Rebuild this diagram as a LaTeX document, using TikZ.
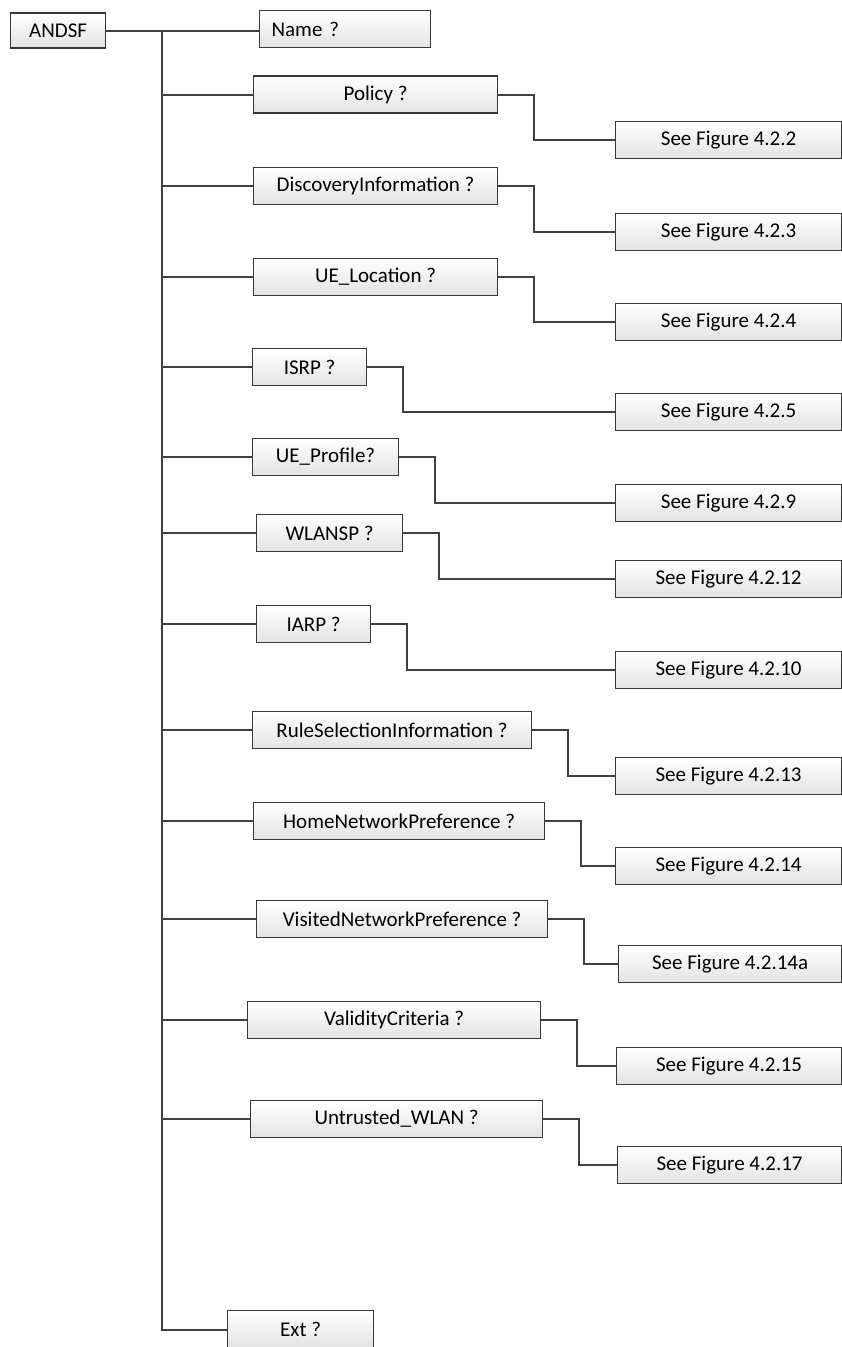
\documentclass[tikz,border=0pt]{standalone}
\usepackage{fontspec}
\setmainfont{Carlito}
\begin{document}
\begin{tikzpicture}[x=1pt, y=-1pt, font=\fontsize{21}{24}\selectfont,
    box/.style={draw=black!78, line width=1.2pt, top color=white, bottom color=black!11,
      minimum height=37, inner sep=0pt, anchor=west},
    link/.style={draw=black!75, line width=2pt}]
  \useasboundingbox (0,0) rectangle (842,1347);
  \node[box, minimum width=95, minimum height=35] (andsf) at (10,30.5) {ANDSF};
  \node[box, minimum width=171, text width=147, inner xsep=12pt, align=left] (name) at (259,29) {Name ?};
  \node[box, minimum width=146, minimum height=38, anchor=north west] (ext) at (227,1310) {Ext ?};
  \coordinate (top) at (162,30.5);
  \draw[link] (andsf.east) -- (andsf.east -| name.west);
  \draw[link] (top) |- (ext.west);
  \foreach \i/\t/\x/\w/\y/\f/\fx/\fy in {
      1/{Policy ?}/253/244/94.5/4.2.2/615/140,
      2/{DiscoveryInformation ?}/253/244/186/4.2.3/615/232,
      3/{UE\_Location ?}/253/244/277/4.2.4/615/322,
      4/{ISRP ?}/252/114/367/4.2.5/615/412,
      5/{UE\_Profile?}/252/146/457/4.2.9/615/503,
      6/{WLANSP ?}/256/146/533/4.2.12/615/579,
      7/{IARP ?}/256/114/624/4.2.10/615/670,
      8/{RuleSelectionInformation ?}/252/279/730/4.2.13/615/776,
      9/{HomeNetworkPreference ?}/253/291/821/4.2.14/615/866,
      10/{VisitedNetworkPreference ?}/256/291/919/4.2.14a/618/964,
      11/{ValidityCriteria ?}/247/293/1020/4.2.15/616/1066,
      12/{Untrusted\_WLAN ?}/250/292/1119/4.2.17/617/1165} {
    \node[box, minimum width=\w] (p\i) at (\x,\y) {\t};
    \node[box, minimum width={841-\fx}] (s\i) at (\fx,\fy) {See Figure \f};
    \draw[link] (p\i.west) -- (p\i.west -| top);
    \draw[link] (p\i.east) -- ++(36,0) |- (s\i.west);
  }
\end{tikzpicture}
\end{document}
